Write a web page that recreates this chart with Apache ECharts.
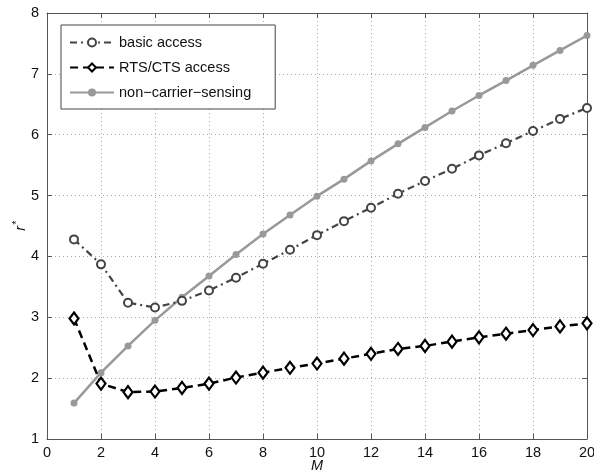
<!DOCTYPE html>
<html><head><meta charset="utf-8">
<script src="https://cdn.jsdelivr.net/npm/echarts@6/dist/echarts.min.js"></script>
<style>html,body{margin:0;padding:0;background:#fff}#c{width:594px;height:474px}</style>
</head><body><div id="c"></div>
<script>
const M = [1,2,3,4,5,6,7,8,9,10,11,12,13,14,15,16,17,18,19,20];
const basicAccess = [4.28,3.87,3.24,3.16,3.27,3.44,3.65,3.88,4.11,4.35,4.58,4.80,5.03,5.24,5.44,5.66,5.86,6.06,6.26,6.44];
const rtsCtsAccess = [2.98,1.91,1.77,1.78,1.84,1.91,2.01,2.09,2.17,2.24,2.32,2.40,2.48,2.53,2.60,2.67,2.73,2.79,2.85,2.90];
const nonCarrier = [1.59,2.09,2.53,2.95,3.33,3.68,4.03,4.37,4.68,4.99,5.27,5.57,5.85,6.12,6.39,6.645,6.89,7.14,7.385,7.63];
const xTicks = [0,2,4,6,8,10,12,14,16,18,20];
const yTicks = [1,2,3,4,5,6,7,8];

const pair = a => M.map((m,i)=>[m,a[i]]);
const font = 'Liberation Sans, Arial, sans-serif';
const axisCol = '#555';
const chart = echarts.init(document.getElementById('c'), null, {renderer:'canvas'});
const baseX = {
  type:'value', min:xTicks[0], max:xTicks[xTicks.length-1], interval:2,
  axisLine:{show:true,onZero:false,lineStyle:{color:axisCol,width:1}},
  axisTick:{show:true,inside:true,length:5,lineStyle:{color:axisCol}},
  splitLine:{show:false}
};
const baseY = {
  type:'value', min:yTicks[0], max:yTicks[yTicks.length-1], interval:1,
  axisLine:{show:true,onZero:false,lineStyle:{color:axisCol,width:1}},
  axisTick:{show:true,inside:true,length:5,lineStyle:{color:axisCol}},
  splitLine:{show:false}
};
chart.setOption({
  animation:false,
  backgroundColor:'#fff',
  grid:{left:47,right:7,top:13,bottom:35,containLabel:false,outerBoundsMode:'none'},
  legend:{
    orient:'vertical', left:61, top:25,
    backgroundColor:'#fff', borderColor:'#444', borderWidth:1,
    padding:[10,24,9,8], itemGap:10, itemWidth:44, itemHeight:10,
    textStyle:{fontFamily:font,fontSize:14.5,color:'#111'},
    data:['basic access','RTS/CTS access','non\u2212carrier\u2212sensing']
  },
  xAxis:[
    Object.assign({}, baseX, {
      position:'bottom',
      axisLabel:{fontFamily:font,fontSize:14.5,color:'#111',margin:6},
      splitLine:{show:true,lineStyle:{color:'#aaa',type:[1,3],width:1}},
      name:'M', nameLocation:'middle', nameGap:19, nameMoveOverlap:false,
      nameTextStyle:{fontFamily:font,fontSize:14.5,fontStyle:'italic',color:'#111'}
    }),
    Object.assign({}, baseX, {position:'top', axisLabel:{show:false}})
  ],
  yAxis:[
    Object.assign({}, baseY, {
      position:'left',
      axisLabel:{fontFamily:font,fontSize:14.5,color:'#111',margin:8},
      splitLine:{show:true,lineStyle:{color:'#aaa',type:[1,3],width:1}},
      name:'{r|r}{s|*}', nameLocation:'middle', nameGap:17, nameRotate:90, nameMoveOverlap:false,
      nameTextStyle:{fontFamily:font,fontSize:14.5,fontStyle:'italic',color:'#111',
        rich:{r:{fontFamily:font,fontSize:14.5,fontStyle:'italic',color:'#111'},
              s:{fontFamily:font,fontSize:10,color:'#111',verticalAlign:'top',padding:[0,0,8,1]}}}
    }),
    Object.assign({}, baseY, {position:'right', axisLabel:{show:false}})
  ],
  series:[
    {
      name:'basic access', type:'line', data:pair(basicAccess),
      symbol:'circle', symbolSize:8,
      lineStyle:{color:'#444',width:2.2,type:[7,4,2,4]},
      itemStyle:{color:'#fff',borderColor:'#444',borderWidth:2},
      z:3
    },
    {
      name:'RTS/CTS access', type:'line', data:pair(rtsCtsAccess),
      symbol:'diamond', symbolSize:[9,12],
      lineStyle:{color:'#000',width:2.5,type:[8,5]},
      itemStyle:{color:'#fff',borderColor:'#000',borderWidth:2.2},
      z:4
    },
    {
      name:'non\u2212carrier\u2212sensing', type:'line', data:pair(nonCarrier),
      symbol:'circle', symbolSize:7,
      lineStyle:{color:'#999',width:2.5},
      itemStyle:{color:'#999',borderColor:'#999',borderWidth:0},
      z:2
    }
  ]
});
</script></body></html>
